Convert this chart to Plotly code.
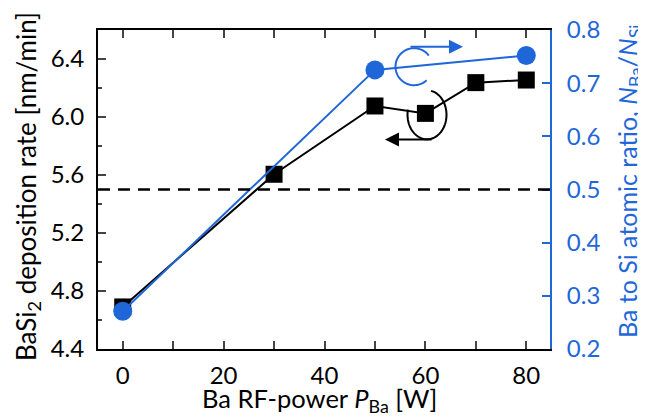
import numpy as np
import plotly.graph_objects as go

# ---- data ----
power_rate = [0, 30, 50, 60, 70, 80]
dep_rate = [4.69, 5.605, 6.076, 6.025, 6.237, 6.255]
power_ratio = [0, 50, 80]
ba_si_ratio = [0.271, 0.725, 0.752]
ref_ratio = 0.5
x_ticks = [0, 20, 40, 60, 80]

BLUE = "#1f67d8"
FONT = "Lato"
FS = 24
TFS = 26

W, H = 646, 418
OFF = 8  # page body margin
L, R, T, B = 98, 550, 30, 349  # plot area in screen pixels


def px(x, y):
    return (x - L) / (R - L), (B - y) / (B - T)


def arc_path(cx, cy, rx, ry, a0, a1, n=60):
    pts = []
    for t in np.linspace(np.radians(a0), np.radians(a1), n):
        pts.append(px(cx + rx * np.cos(t), cy + ry * np.sin(t)))
    return "M " + " L ".join(f"{a:.5f},{b:.5f}" for a, b in pts)


fig = go.Figure()
fig.add_trace(go.Scatter(
    x=power_rate, y=dep_rate, mode="lines+markers",
    line=dict(color="black", width=2),
    marker=dict(symbol="square", size=17, color="black"),
    yaxis="y", showlegend=False,
))
fig.add_trace(go.Scatter(
    x=power_ratio, y=ba_si_ratio, mode="lines+markers",
    line=dict(color=BLUE, width=2),
    marker=dict(symbol="circle", size=19, color=BLUE),
    yaxis="y2", showlegend=False,
))

# dashed reference line
fig.add_shape(type="line", xref="paper", x0=0, x1=1, yref="y2", y0=ref_ratio, y1=ref_ratio,
              line=dict(color="black", width=2.5, dash="12px,8px"))

# curly arrows
fig.add_shape(type="path", xref="paper", yref="paper",
              path=arc_path(414, 66.7, 18.5, 18.5, -37, -313),
              line=dict(color=BLUE, width=2))
fig.add_shape(type="path", xref="paper", yref="paper",
              path=arc_path(427, 114.8, 19.5, 24.5, -78, 192),
              line=dict(color="black", width=2))

bx, by = px(463, 46.7)
fig.add_annotation(x=bx, y=by, xref="paper", yref="paper", ax=-54, ay=0, text="",
                   showarrow=True, arrowhead=2, arrowsize=1.4, arrowwidth=2, arrowcolor=BLUE)
kx, ky = px(385, 139.5)
fig.add_annotation(x=kx, y=ky, xref="paper", yref="paper", ax=48, ay=0, text="",
                   showarrow=True, arrowhead=2, arrowsize=1.4, arrowwidth=2, arrowcolor="black")

# axis titles
tx, ty = px(319.5, 399.5)
fig.add_annotation(x=tx, y=ty, xref="paper", yref="paper", showarrow=False,
                   xanchor="center", yanchor="middle",
                   text="Ba RF-power <i>P</i><sub>Ba</sub> [W]", font=dict(size=25.5))
lx, ly = px(27, 187)
fig.add_annotation(x=lx, y=ly, xref="paper", yref="paper", showarrow=False, textangle=-90,
                   xanchor="center", yanchor="middle",
                   text="BaSi<sub>2</sub> deposition rate [nm/min]", font=dict(size=TFS))
rx, ry = px(629, 181)
fig.add_annotation(x=rx, y=ry, xref="paper", yref="paper", showarrow=False, textangle=-90,
                   xanchor="center", yanchor="middle",
                   text="Ba to Si atomic ratio, <i>N</i><sub>Ba</sub>/<i>N</i><sub>Si</sub>",
                   font=dict(size=25, color=BLUE))

fig.update_layout(
    width=W, height=H,
    margin=dict(l=L - OFF, r=W - R + OFF, t=T - OFF, b=H - B + OFF, autoexpand=False),
    paper_bgcolor="white", plot_bgcolor="white",
    font=dict(family=FONT, size=FS, color="black"),
    xaxis=dict(
        range=[-4.9, 84.7], tickvals=x_ticks, ticks="inside", ticklen=8, tickwidth=2,
        showline=True, linewidth=2, linecolor="black", mirror="allticks",
        showgrid=False, zeroline=False, automargin=False,
        minor=dict(ticks="inside", ticklen=4, tickwidth=2, dtick=10, tick0=0, showgrid=False),
        ticklabelstandoff=4,
    ),
    yaxis=dict(
        range=[4.4, 6.6], tick0=4.4, dtick=0.4, tickformat=".1f",
        ticks="inside", ticklen=8, tickwidth=2,
        showline=True, linewidth=2, linecolor="black", mirror=False,
        showgrid=False, zeroline=False, automargin=False,
        minor=dict(ticks="inside", ticklen=4, tickwidth=2, dtick=0.2, tick0=4.4, showgrid=False),
        ticklabelstandoff=7,
    ),
    yaxis2=dict(
        overlaying="y", side="right",
        range=[0.2, 0.8], tick0=0.2, dtick=0.1, tickformat=".1f",
        ticks="inside", ticklen=8, tickwidth=2, tickcolor=BLUE,
        showline=True, linewidth=2, linecolor=BLUE,
        showgrid=False, zeroline=False, automargin=False,
        tickfont=dict(color=BLUE),
        ticklabelstandoff=10,
    ),
)

fig.write_html("out.html")
